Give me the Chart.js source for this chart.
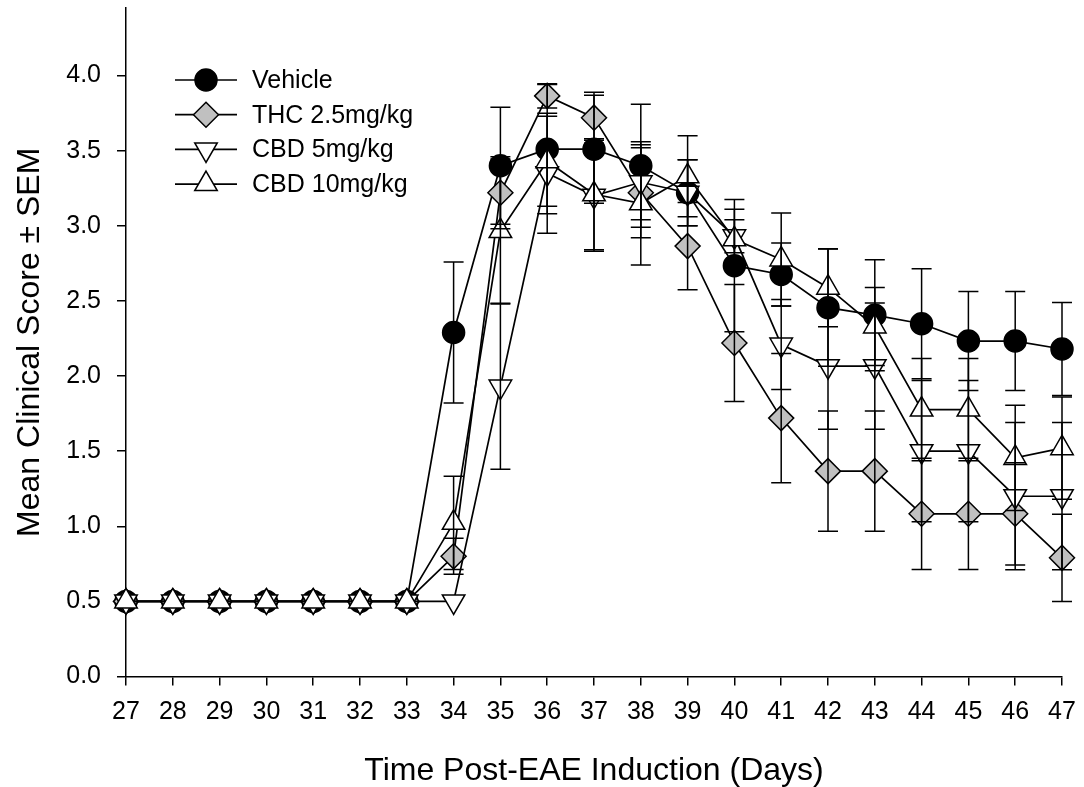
<!DOCTYPE html>
<html>
<head>
<meta charset="utf-8">
<style>
  html, body { margin: 0; padding: 0; background: #ffffff; }
  #wrap { width: 1084px; height: 787px; position: relative; }
</style>
<script src="https://cdn.jsdelivr.net/npm/chart.js@4.4.1/dist/chart.umd.min.js"></script>
</head>
<body>
<div id="wrap"><canvas id="c"></canvas></div>
<script>
// ---- Data ----
const days = [27, 28, 29, 30, 31, 32, 33, 34, 35, 36, 37, 38, 39, 40, 41, 42, 43, 44, 45, 46, 47];
const seriesLabels = ['Vehicle', 'THC 2.5mg/kg', 'CBD 5mg/kg', 'CBD 10mg/kg'];

const vehicle    = [0.5, 0.5, 0.5, 0.5, 0.5, 0.5, 0.5, 2.29, 3.40, 3.51, 3.51, 3.40, 3.22, 2.735, 2.676, 2.455, 2.405, 2.348, 2.233, 2.233, 2.18];
const vehicleSem = [0, 0, 0, 0, 0, 0, 0, 0.47, 0.39, 0.43, 0.36, 0.41, 0.22, 0.44, 0.21, 0.39, 0.37, 0.366, 0.33, 0.33, 0.31];

const thc        = [0.5, 0.5, 0.5, 0.5, 0.5, 0.5, 0.5, 0.80, 3.22, 3.865, 3.72, 3.22, 2.865, 2.22, 1.72, 1.367, 1.367, 1.083, 1.083, 1.083, 0.79];
const thcSem     = [0, 0, 0, 0, 0, 0, 0, 0.12, 0.24, 0.08, 0.17, 0.30, 0.29, 0.39, 0.43, 0.40, 0.40, 0.37, 0.37, 0.34, 0.29];

const cbd5       = [0.5, 0.5, 0.5, 0.5, 0.5, 0.5, 0.5, 0.50, 1.93, 3.35, 3.20, 3.29, 3.22, 2.93, 2.21, 2.066, 2.066, 1.50, 1.50, 1.20, 1.20];
const cbd5Sem    = [0, 0, 0, 0, 0, 0, 0, 0, 0.55, 0.40, 0.37, 0.25, 0.22, 0.11, 0.30, 0.42, 0.42, 0.47, 0.47, 0.49, 0.49];

const cbd10      = [0.5, 0.5, 0.5, 0.5, 0.5, 0.5, 0.5, 1.023, 2.965, 3.43, 3.21, 3.15, 3.33, 2.91, 2.776, 2.588, 2.33, 1.777, 1.777, 1.455, 1.52];
const cbd10Sem   = [0, 0, 0, 0, 0, 0, 0, 0.31, 0.48, 0.30, 0.37, 0.41, 0.27, 0.20, 0.31, 0.26, 0.26, 0.34, 0.34, 0.35, 0.34];

const yTickMax = 4.0;
const xTitle = 'Time Post-EAE Induction (Days)';
const yTitle = 'Mean Clinical Score \u00B1 SEM';

// ---- Styling ----
const FONT = '"Liberation Sans", Arial, Helvetica, sans-serif';
const styles = [
  { pointStyle: 'circle',  radius: 11,   rotation: 0,   fill: '#000000' },
  { pointStyle: 'rectRot', radius: 12.5, rotation: 0,   fill: '#c0c0c0' },
  { pointStyle: 'triangle', radius: 13,  rotation: 180, fill: '#ffffff' },
  { pointStyle: 'triangle', radius: 13,  rotation: 0,   fill: '#ffffff' }
];
const values = [vehicle, thc, cbd5, cbd10];
const sems = [vehicleSem, thcSem, cbd5Sem, cbd10Sem];

const datasets = values.map((vals, i) => ({
  label: seriesLabels[i],
  data: days.map((d, j) => ({ x: d, y: vals[j] })),
  borderColor: '#000000',
  borderWidth: 1.7,
  backgroundColor: styles[i].fill,
  pointStyle: styles[i].pointStyle,
  pointRadius: styles[i].radius,
  pointRotation: styles[i].rotation,
  pointBackgroundColor: styles[i].fill,
  pointBorderColor: '#000000',
  pointBorderWidth: 1.5,
  pointHoverRadius: styles[i].radius,
  tension: 0,
  clip: false,
  order: 4 - i,
  sem: sems[i]
}));

const errorBars = {
  id: 'errorBars',
  afterDatasetsDraw(chart) {
    const ctx = chart.ctx;
    const ys = chart.scales.y;
    ctx.save();
    ctx.strokeStyle = '#000000';
    ctx.lineWidth = 1.5;
    chart.data.datasets.forEach((ds, i) => {
      const meta = chart.getDatasetMeta(i);
      meta.data.forEach((pt, j) => {
        const s = ds.sem[j];
        if (!s) return;
        const v = ds.data[j].y;
        const yTop = ys.getPixelForValue(v + s);
        const yBot = ys.getPixelForValue(v - s);
        const x = pt.x;
        const cap = 10;
        ctx.beginPath();
        ctx.moveTo(x, yTop); ctx.lineTo(x, yBot);
        ctx.moveTo(x - cap, yTop); ctx.lineTo(x + cap, yTop);
        ctx.moveTo(x - cap, yBot); ctx.lineTo(x + cap, yBot);
        ctx.stroke();
      });
    });
    ctx.restore();
  }
};

const customLegend = {
  id: 'customLegend',
  afterDraw(chart) {
    const ctx = chart.ctx;
    const area = chart.chartArea;
    const x0 = area.left + 49, x1 = area.left + 111, cx = area.left + 80;
    const tx = area.left + 126;
    const y0 = area.top + 72, dy = 34.7;
    ctx.save();
    chart.data.datasets.forEach((ds, i) => {
      const y = y0 + dy * i;
      ctx.strokeStyle = '#000000';
      ctx.lineWidth = 1.7;
      ctx.beginPath(); ctx.moveTo(x0, y); ctx.lineTo(x1, y); ctx.stroke();
      ctx.fillStyle = styles[i].fill;
      ctx.lineWidth = 1.5;
      Chart.helpers.drawPoint(ctx, {
        pointStyle: styles[i].pointStyle,
        radius: styles[i].radius,
        rotation: styles[i].rotation,
        borderWidth: 1.5
      }, cx, y);
      ctx.fillStyle = '#000000';
      ctx.font = '25px ' + FONT;
      ctx.textAlign = 'left';
      ctx.textBaseline = 'middle';
      ctx.fillText(ds.label, tx, y + 1);
    });
    ctx.restore();
  }
};

new Chart(document.getElementById('c'), {
  type: 'line',
  data: { datasets },
  plugins: [errorBars, customLegend],
  options: {
    responsive: true,
    maintainAspectRatio: false,
    animation: false,
    devicePixelRatio: 1,
    events: [],
    layout: { autoPadding: false, padding: { top: 8, right: 22, left: 0, bottom: 0 } },
    plugins: {
      legend: { display: false },
      tooltip: { enabled: false },
      title: { display: false }
    },
    scales: {
      x: {
        type: 'linear',
        min: days[0],
        max: days[days.length - 1],
        afterFit(s) { s.height = 110.5; s.paddingLeft = 0; s.paddingRight = 0; },
        ticks: {
          stepSize: 1,
          color: '#000000',
          font: { family: FONT, size: 25 },
          padding: 12,
          maxRotation: 0,
          autoSkip: false
        },
        grid: {
          display: true,
          drawOnChartArea: false,
          drawTicks: true,
          tickLength: 9,
          color: '#000000',
          lineWidth: 1.5
        },
        border: { display: true, color: '#000000', width: 1.5 },
        title: {
          display: true,
          text: xTitle,
          color: '#000000',
          font: { family: FONT, size: 32, lineHeight: 1 },
          padding: { top: 0, bottom: 0 }
        }
      },
      y: {
        type: 'linear',
        min: 0,
        max: 4.45,
        afterBuildTicks(s) { s.ticks = s.ticks.filter(t => t.value <= yTickMax + 1e-9); },
        afterFit(s) { s.width = 126; s.paddingTop = 0; s.paddingBottom = 0; },
        ticks: {
          stepSize: 0.5,
          color: '#000000',
          font: { family: FONT, size: 25, lineHeight: 0.5 },
          padding: 16,
          callback: v => Number(v).toFixed(1)
        },
        grid: {
          display: true,
          drawOnChartArea: false,
          drawTicks: true,
          tickLength: 9,
          color: '#000000',
          lineWidth: 1.5
        },
        border: { display: true, color: '#000000', width: 1.5 },
        title: {
          display: true,
          text: yTitle,
          color: '#000000',
          font: { family: FONT, size: 32, lineHeight: 1 },
          padding: { top: 14, bottom: 0 }
        }
      }
    }
  }
});
</script>
</body>
</html>
